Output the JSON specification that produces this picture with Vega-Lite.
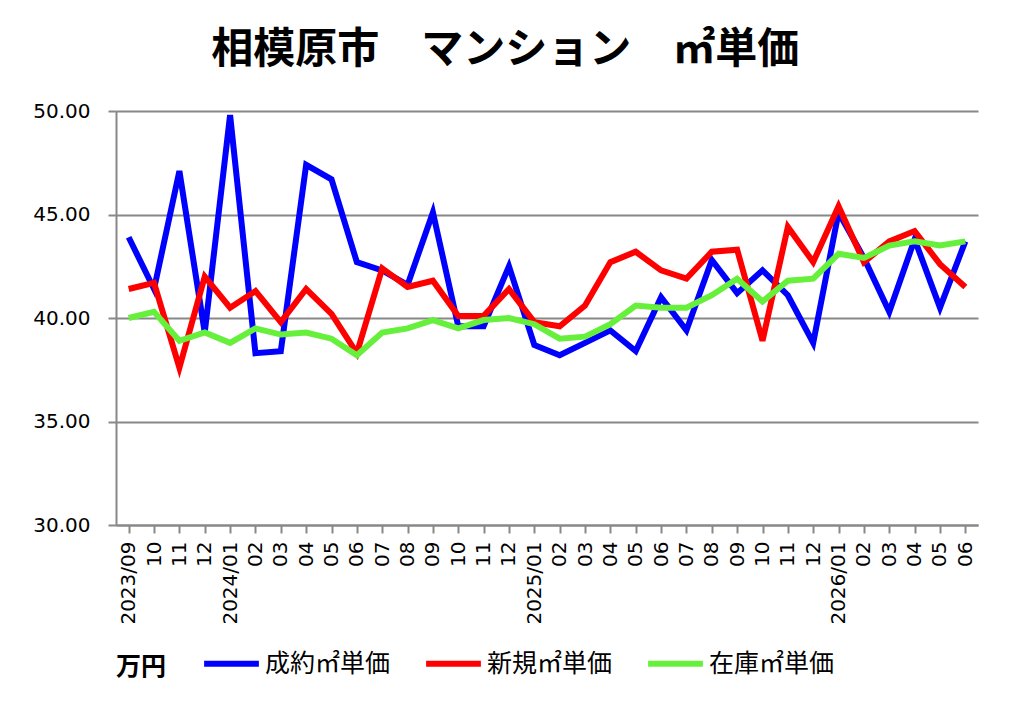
{
  "$schema": "https://vega.github.io/schema/vega-lite/v6.json",
  "width": 862,
  "height": 414,
  "padding": {"left": 32, "top": 29, "right": 10, "bottom": 10},
  "background": "white",
  "title": {
    "text": "相模原市　マンション　㎡単価",
    "font": "Noto Sans CJK JP",
    "fontSize": 42,
    "fontWeight": "bold",
    "color": "black",
    "anchor": "middle",
    "frame": "bounds",
    "offset": 29
  },
  "data": {
    "values": [
      {"month": "2023/09", "a": 43.9, "b": 41.4, "c": 40.0},
      {"month": "2023/10", "a": 41.4, "b": 41.7, "c": 40.3},
      {"month": "2023/11", "a": 47.1, "b": 37.6, "c": 38.9},
      {"month": "2023/12", "a": 39.3, "b": 42.0, "c": 39.3},
      {"month": "2024/01", "a": 49.8, "b": 40.5, "c": 38.8},
      {"month": "2024/02", "a": 38.3, "b": 41.3, "c": 39.5},
      {"month": "2024/03", "a": 38.4, "b": 39.8, "c": 39.2},
      {"month": "2024/04", "a": 47.4, "b": 41.4, "c": 39.3},
      {"month": "2024/05", "a": 46.7, "b": 40.2, "c": 39.0},
      {"month": "2024/06", "a": 42.7, "b": 38.3, "c": 38.2},
      {"month": "2024/07", "a": 42.3, "b": 42.4, "c": 39.3},
      {"month": "2024/08", "a": 41.6, "b": 41.5, "c": 39.5},
      {"month": "2024/09", "a": 45.1, "b": 41.8, "c": 39.9},
      {"month": "2024/10", "a": 39.6, "b": 40.1, "c": 39.5},
      {"month": "2024/11", "a": 39.6, "b": 40.1, "c": 39.9},
      {"month": "2024/12", "a": 42.5, "b": 41.4, "c": 40.0},
      {"month": "2025/01", "a": 38.7, "b": 39.8, "c": 39.7},
      {"month": "2025/02", "a": 38.2, "b": 39.6, "c": 39.0},
      {"month": "2025/03", "a": 38.8, "b": 40.6, "c": 39.1},
      {"month": "2025/04", "a": 39.4, "b": 42.7, "c": 39.7},
      {"month": "2025/05", "a": 38.4, "b": 43.2, "c": 40.6},
      {"month": "2025/06", "a": 41.0, "b": 42.3, "c": 40.5},
      {"month": "2025/07", "a": 39.4, "b": 41.9, "c": 40.5},
      {"month": "2025/08", "a": 42.8, "b": 43.2, "c": 41.1},
      {"month": "2025/09", "a": 41.2, "b": 43.3, "c": 41.9},
      {"month": "2025/10", "a": 42.3, "b": 38.9, "c": 40.8},
      {"month": "2025/11", "a": 41.1, "b": 44.4, "c": 41.8},
      {"month": "2025/12", "a": 38.8, "b": 42.7, "c": 41.9},
      {"month": "2026/01", "a": 45.1, "b": 45.4, "c": 43.1},
      {"month": "2026/02", "a": 42.9, "b": 42.7, "c": 42.9},
      {"month": "2026/03", "a": 40.3, "b": 43.7, "c": 43.5},
      {"month": "2026/04", "a": 43.8, "b": 44.2, "c": 43.7},
      {"month": "2026/05", "a": 40.5, "b": 42.6, "c": 43.5},
      {"month": "2026/06", "a": 43.7, "b": 41.5, "c": 43.7}
    ]
  },
  "transform": [
    {"fold": ["a", "b", "c"], "as": ["series", "value"]}
  ],
  "mark": {"type": "line", "strokeWidth": 6, "strokeJoin": "miter"},
  "encoding": {
    "x": {
      "field": "month",
      "type": "ordinal",
      "scale": {"type": "point", "padding": 0.5},
      "axis": {
        "title": null,
        "grid": false,
        "labelAngle": -90,
        "labelAlign": "right",
        "labelBaseline": "middle",
        "labelFont": "DejaVu Sans",
        "labelFontSize": 20,
        "labelColor": "black",
        "labelPadding": 8,
        "tickSize": 8,
        "tickColor": "#888888",
        "tickWidth": 2,
        "domainColor": "#888888",
        "domainWidth": 2,
        "labelExpr": "indexof(datum.value, '/01') >= 0 || datum.value == '2023/09' ? datum.value : slice(datum.value, 5)"
      }
    },
    "y": {
      "field": "value",
      "type": "quantitative",
      "scale": {"domain": [30, 50], "nice": false, "zero": false},
      "axis": {
        "title": null,
        "values": [30, 35, 40, 45, 50],
        "format": ".2f",
        "grid": true,
        "gridColor": "#888888",
        "gridWidth": 2,
        "labelFont": "DejaVu Sans",
        "labelFontSize": 20,
        "labelColor": "black",
        "labelPadding": 18,
        "tickSize": 8,
        "tickColor": "#888888",
        "tickWidth": 2,
        "domainColor": "#888888",
        "domainWidth": 2
      }
    },
    "color": {
      "field": "series",
      "type": "nominal",
      "scale": {
        "domain": ["a", "b", "c"],
        "range": ["#0000ff", "#ff0000", "#66f03c"]
      },
      "legend": {
        "title": "万円",
        "orient": "bottom",
        "direction": "horizontal",
        "labelExpr": "datum.value == 'a' ? '成約㎡単価' : datum.value == 'b' ? '新規㎡単価' : '在庫㎡単価'",
        "titleOrient": "left",
        "titleBaseline": "top",
        "titleFont": "Noto Sans CJK JP",
        "titleFontSize": 25,
        "titleFontWeight": "bold",
        "titleColor": "black",
        "titlePadding": 34,
        "labelFont": "Noto Sans CJK JP",
        "labelFontSize": 25,
        "labelColor": "black",
        "labelOffset": 3,
        "labelLimit": 300,
        "symbolType": "stroke",
        "symbolStrokeWidth": 6,
        "symbolSize": 3000,
        "columnPadding": 23,
        "offset": 8
      }
    }
  },
  "config": {
    "view": {"stroke": null}
  }
}
